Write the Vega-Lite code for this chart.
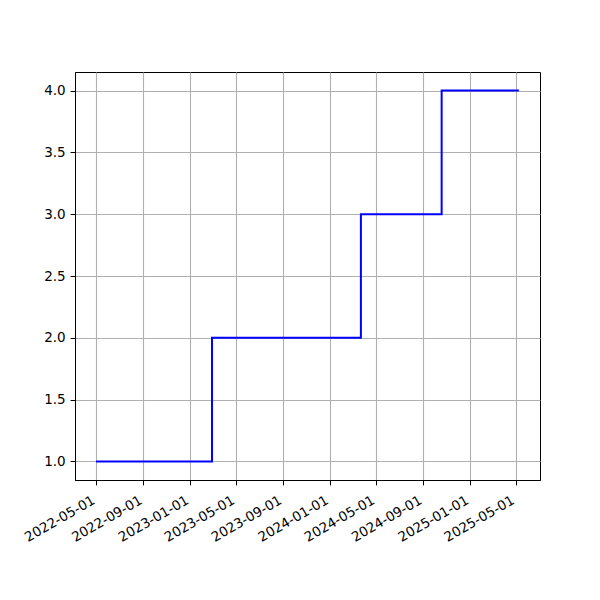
{
  "$schema": "https://vega.github.io/schema/vega-lite/v6.json",
  "width": 465,
  "height": 408,
  "autosize": {"type": "none"},
  "padding": {"left": 75, "top": 72, "right": 60, "bottom": 120},
  "background": "white",
  "config": {
    "view": {"stroke": "black", "strokeWidth": 1},
    "axis": {
      "labelFont": "DejaVu Sans",
      "labelFontSize": 13.5,
      "labelColor": "black",
      "tickColor": "black",
      "tickSize": 4.9,
      "tickWidth": 1,
      "domainColor": "black",
      "domainWidth": 1,
      "gridColor": "#b0b0b0",
      "gridWidth": 1.1,
      "title": null,
      "labelPadding": 4.9,
      "labelOverlap": false
    }
  },
  "data": {
    "values": [
      {"date": "2022-05-01", "value": 1},
      {"date": "2023-02-28", "value": 2},
      {"date": "2024-03-23", "value": 3},
      {"date": "2024-10-20", "value": 4},
      {"date": "2025-05-10", "value": 4}
    ]
  },
  "mark": {"type": "line", "interpolate": "step-after", "color": "blue", "strokeWidth": 2, "clip": true},
  "encoding": {
    "x": {
      "field": "date",
      "type": "temporal",
      "scale": {
        "type": "utc",
        "domain": [
          {"year": 2022, "month": 3, "date": 7, "utc": true},
          {"year": 2025, "month": 7, "date": 4, "utc": true}
        ],
        "nice": false
      },
      "axis": {
        "values": [
          {"year": 2022, "month": 5, "date": 1, "utc": true},
          {"year": 2022, "month": 9, "date": 1, "utc": true},
          {"year": 2023, "month": 1, "date": 1, "utc": true},
          {"year": 2023, "month": 5, "date": 1, "utc": true},
          {"year": 2023, "month": 9, "date": 1, "utc": true},
          {"year": 2024, "month": 1, "date": 1, "utc": true},
          {"year": 2024, "month": 5, "date": 1, "utc": true},
          {"year": 2024, "month": 9, "date": 1, "utc": true},
          {"year": 2025, "month": 1, "date": 1, "utc": true},
          {"year": 2025, "month": 5, "date": 1, "utc": true}
        ],
        "labelExpr": "utcFormat(datum.value, '%Y-%m-%d')",
        "labelAngle": -30,
        "labelAlign": "right",
        "labelBaseline": "top",
        "labelPadding": 8,
        "labelOffset": -6,
        "grid": true
      }
    },
    "y": {
      "field": "value",
      "type": "quantitative",
      "scale": {"domain": [0.85, 4.15], "nice": false, "zero": false},
      "axis": {
        "values": [1, 1.5, 2, 2.5, 3, 3.5, 4],
        "format": ".1f",
        "grid": true
      }
    }
  }
}
